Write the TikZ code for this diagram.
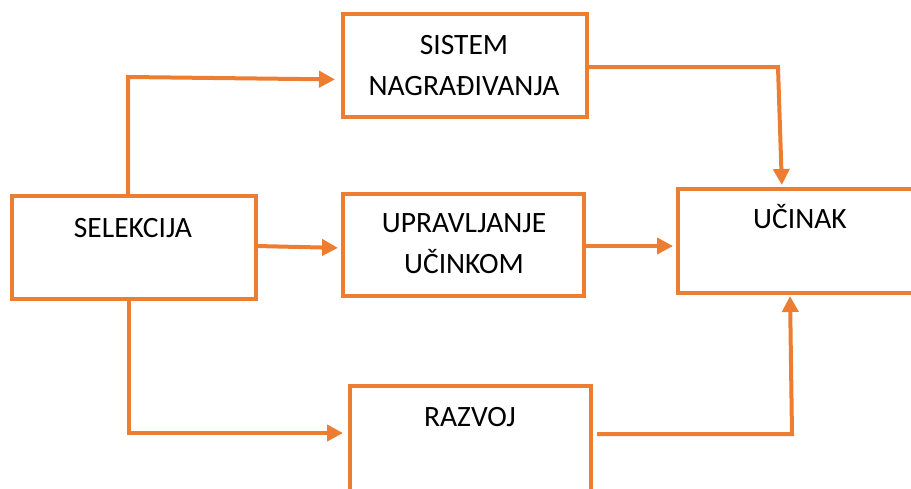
\documentclass[tikz,border=0pt]{standalone}
\usepackage{fontspec}
\setmainfont{Carlito}
\usetikzlibrary{arrows.meta}
\definecolor{accent}{HTML}{ED7D31}
\begin{document}
\begin{tikzpicture}[x=1pt,y=-1pt,
  box/.style={draw=accent, line width=4pt, minimum width=244pt,
    minimum height=103pt, inner sep=0pt, outer sep=0pt, anchor=north west},
  lbl/.style={font=\fontsize{29.5}{35}\selectfont, text=black, inner sep=0pt, anchor=base},
  conn/.style={draw=accent, line width=4pt, line join=miter,
    -{Triangle[length=16pt,width=16pt]}}]
\useasboundingbox (0,0) rectangle (911,488);
\clip (0,0) rectangle (911,488);

% boxes
\node[box] (sel) at (12,196) {};
\node[box] (sis) at (343,14) {};
\node[box, minimum width=241pt, minimum height=102pt] (upr) at (343,194) {};
\node[box, minimum height=104pt] (uci) at (678,189) {};
\node[box, minimum width=241pt, minimum height=115pt] (raz) at (350,386) {};

% labels
\node[lbl] (selT) at (133,237) {SELEKCIJA};
\node[lbl] (sisA) at (464,54) {SISTEM};
\node[lbl] (sisB) at (464,95) {NAGRAĐIVANJA};
\node[lbl] (uprA) at (464,232) {UPRAVLJANJE};
\node[lbl] (uprB) at (464,273) {UČINKOM};
\node[lbl] (uciT) at (800,228) {UČINAK};
\node[lbl] (razT) at (470,426) {RAZVOJ};

% corners of the elbow connectors
\coordinate (k1) at (128,77);
\coordinate (k2) at (778,67);
\coordinate (k5) at (129,433);
\coordinate (k6) at (792,434);

% connectors
\draw[conn, shorten >=8pt] (sel.north -| k1) -- (k1) -- ([yshift=-14pt]sis.west);
\draw[conn, shorten >=4pt] ([yshift=-1.5pt]sis.east) -- (k2) -- ([xshift=-18pt]uci.north);
\draw[conn, shorten >=5pt] ([yshift=1.5pt]sel.east) -- ([yshift=-3pt]upr.west);
\draw[conn, shorten >=5pt] ([yshift=-1pt]upr.east) -- ([yshift=-1pt]upr.east -| uci.west);
\draw[conn, shorten >=7pt] (sel.south -| k5) -- (k5) -- (k5 -| raz.west);
\draw[conn, shorten <=6pt, shorten >=3pt] (raz.east |- k6) -- (k6) -- ([xshift=-10pt]uci.south);
\end{tikzpicture}
\end{document}
